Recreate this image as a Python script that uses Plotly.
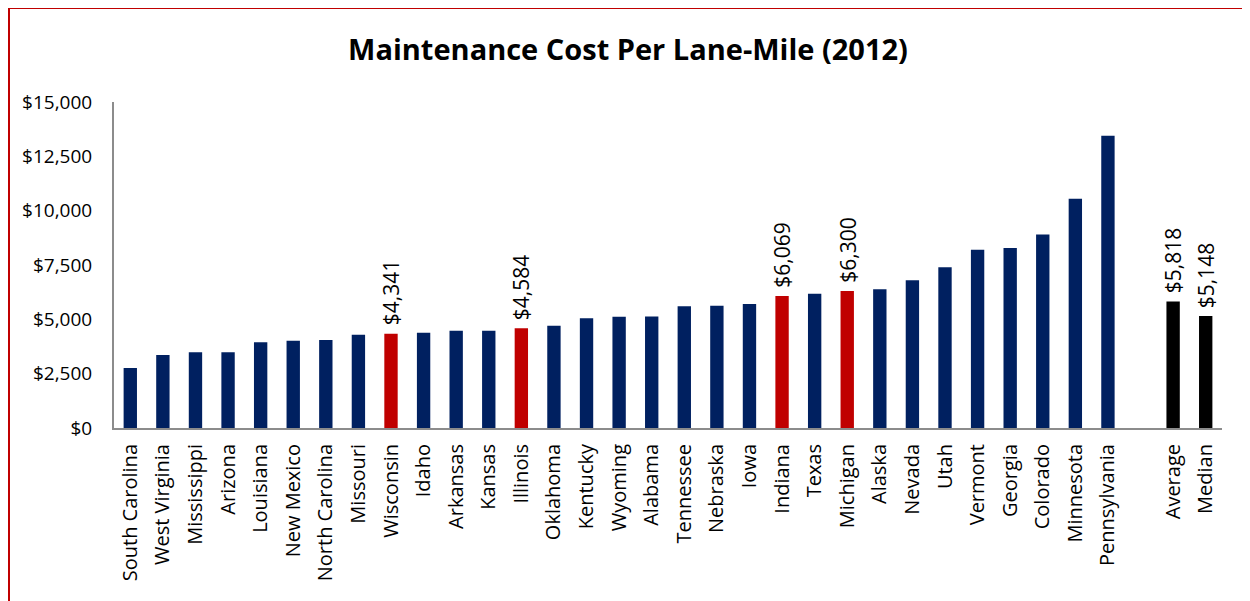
import plotly.graph_objects as go

states = ["South Carolina", "West Virginia", "Mississippi", "Arizona", "Louisiana",
          "New Mexico", "North Carolina", "Missouri", "Wisconsin", "Idaho", "Arkansas",
          "Kansas", "Illinois", "Oklahoma", "Kentucky", "Wyoming", "Alabama", "Tennessee",
          "Nebraska", "Iowa", "Indiana", "Texas", "Michigan", "Alaska", "Nevada", "Utah",
          "Vermont", "Georgia", "Colorado", "Minnesota", "Pennsylvania"]
state_costs = [2760, 3360, 3480, 3480, 3950, 4010, 4050, 4290, 4341, 4380, 4480,
               4480, 4584, 4700, 5050, 5120, 5130, 5600, 5620, 5700, 6069, 6180,
               6300, 6380, 6800, 7400, 8200, 8280, 8900, 10550, 13450]
summary_labels = ["Average", "Median"]
summary_costs = [5818, 5148]
highlighted = ["Wisconsin", "Illinois", "Indiana", "Michigan"]
title_text = "Maintenance Cost Per Lane-Mile (2012)"
y_ticks = [0, 2500, 5000, 7500, 10000, 12500, 15000]

NAVY = "#002060"
RED = "#C00000"
BLACK = "#000000"
FONT = "Open Sans, Noto Sans, sans-serif"

gap_cat = " "
cats = states + [gap_cat] + summary_labels
vals = state_costs + [None] + summary_costs
colors = [RED if s in highlighted else NAVY for s in states] + [NAVY] + [BLACK, BLACK]

label_points = [(s, v) for s, v in zip(states, state_costs) if s in highlighted] + \
               list(zip(summary_labels, summary_costs))

# page has an 8px body margin: work in figure pixel coordinates
OFF = 8
W, H = 1250, 601
L, R, T, B = 114 - OFF, 1222 - OFF, 102 - OFF, 428 - OFF

fig = go.Figure(go.Bar(
    x=cats, y=vals, marker=dict(color=colors, line=dict(width=0)),
    cliponaxis=False, hoverinfo="x+y",
))

annotations = [
    dict(x=s, y=v, xref="x", yref="y", text=f"${v:,}", showarrow=False,
         textangle=-90, xanchor="center", yanchor="bottom", yshift=6,
         font=dict(family=FONT, size=21, color="#000000"))
    for s, v in label_points
]

def px_x(p):
    return (p - L) / (R - L)

def px_y(p):
    return (B - p) / (B - T)

shapes = [
    dict(type="line", xref="paper", yref="paper", x0=px_x(0.5), x1=px_x(0.5), y0=px_y(0), y1=px_y(605),
         line=dict(color=RED, width=3)),
    dict(type="line", xref="paper", yref="paper", x0=px_x(0), x1=px_x(1245), y0=px_y(0), y1=px_y(0),
         line=dict(color=RED, width=2)),
    dict(type="line", xref="paper", yref="paper", x0=px_x(1240.5), x1=px_x(1240.5), y0=px_y(0), y1=px_y(605),
         line=dict(color=RED, width=1.5)),
]

fig.update_layout(
    width=W, height=H,
    margin=dict(l=L, r=W - R, t=T, b=H - B, pad=0),
    paper_bgcolor="white", plot_bgcolor="white",
    bargap=0.59,
    showlegend=False,
    shapes=shapes,
    annotations=annotations,
    title=dict(text=f"<b>{title_text}</b>", x=px_x(628 - OFF), xref="paper", xanchor="center",
               y=1 - (50 - OFF) / H, yanchor="middle",
               font=dict(family=FONT, size=29, color="#000000")),
    xaxis=dict(type="category", categoryorder="array", categoryarray=cats,
               tickangle=-90, showgrid=False, showline=True, linecolor="#8C8C8C", linewidth=2,
               ticks="", ticklabelstandoff=6,
               tickfont=dict(family=FONT, size=20, color="#000000"),
               range=[-0.5, len(cats) - 0.5]),
    yaxis=dict(range=[0, 15000], tickvals=y_ticks, ticktext=[f"${v:,}" for v in y_ticks],
               showgrid=False, showline=True, linecolor="#8C8C8C", linewidth=2, ticks="",
               ticklabelstandoff=16,
               tickfont=dict(family=FONT, size=19, color="#000000")),
)

fig.write_html("out.html")
